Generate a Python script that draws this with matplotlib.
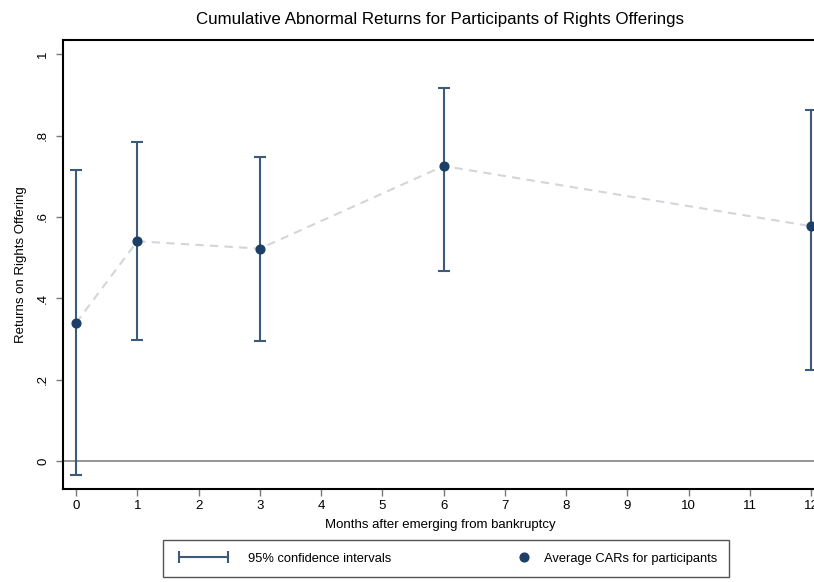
import matplotlib.pyplot as plt
from matplotlib.lines import Line2D
from matplotlib.legend_handler import HandlerLine2D, HandlerLine2DCompound

plt.rcParams['font.family'] = ['Liberation Sans', 'DejaVu Sans']

# data
months = [0, 1, 3, 6, 12]
car_mean = [0.339, 0.540, 0.522, 0.725, 0.577]
ci_low = [-0.034, 0.298, 0.296, 0.467, 0.224]
ci_high = [0.714, 0.783, 0.746, 0.918, 0.863]
xticks = list(range(13))
yticks = [0, 0.2, 0.4, 0.6, 0.8, 1.0]
ytick_labels = ['0', '.2', '.4', '.6', '.8', '1']

navy = '#1b3f66'
bar_col = '#3d5b79'

fig = plt.figure(figsize=(8.14, 5.82), dpi=100)
# axes runs slightly past the right edge, like the cropped original
ax = fig.add_axes([63 / 814, 1 - 489 / 582, (818 - 63) / 814, (489 - 39.5) / 582])

ax.axhline(0, color='#8c8c8c', lw=1.3, zorder=1)
ax.plot(months, car_mean, color='#d2d6da', lw=1.5, dashes=(4, 3), zorder=2)
lo = [m - l for m, l in zip(car_mean, ci_low)]
hi = [h - m for m, h in zip(car_mean, ci_high)]
ax.errorbar(months, car_mean, yerr=[lo, hi], fmt='none', ecolor=bar_col,
            elinewidth=1.5, capsize=4, capthick=1.5, zorder=3)
ax.plot(months, car_mean, 'o', ms=6.3, color=navy, zorder=4, clip_on=False)

ax.set_xlim(-0.212, 12.11)
ax.set_ylim(-0.069, 1.036)
ax.set_xticks(xticks)
ax.set_xticklabels([str(t) for t in xticks], fontsize=9.5)
ax.set_yticks(yticks)
ax.set_yticklabels(ytick_labels, rotation=90, va='center', fontsize=9.5)
ax.tick_params(length=5, width=1, color='#7a7a7a', pad=5)
ax.tick_params(axis='x', pad=3)
for s in ['left', 'top', 'bottom']:
    ax.spines[s].set_linewidth(1.5)
ax.spines['right'].set_visible(False)

ax.set_xlabel('Months after emerging from bankruptcy', fontsize=9.5, labelpad=5)
ax.set_ylabel('Returns on Rights Offering', fontsize=9.5, labelpad=7)
ax.set_title('Cumulative Abnormal Returns for Participants of Rights Offerings',
             fontsize=12.2, pad=11)


class HandlerRightMarker(HandlerLine2DCompound):
    def get_xdata(self, legend, xdescent, ydescent, width, height, fontsize):
        xdata, _ = super().get_xdata(legend, xdescent, ydescent, width, height, fontsize)
        return xdata, [-xdescent + width - 3]


ci_handle = Line2D([], [], color=bar_col, lw=1.5, marker='|', ms=8, mew=1.5)
pt_handle = Line2D([], [], color=navy, ls='none', marker='o', ms=6.3)
fig.legend([ci_handle, pt_handle],
           ['95% confidence intervals', 'Average CARs for participants'],
           handler_map={ci_handle: HandlerLine2D(numpoints=2),
                        pt_handle: HandlerRightMarker()},
           loc='center', mode='expand', ncol=2, fontsize=9.3,
           bbox_to_anchor=(163 / 814, 5 / 582, (729 - 163) / 814, 37 / 582),
           frameon=True, fancybox=False, edgecolor='#555555', framealpha=1,
           handlelength=4.4, handletextpad=1.24, borderpad=0.93, borderaxespad=0)

fig.savefig('out.png', dpi=100)
